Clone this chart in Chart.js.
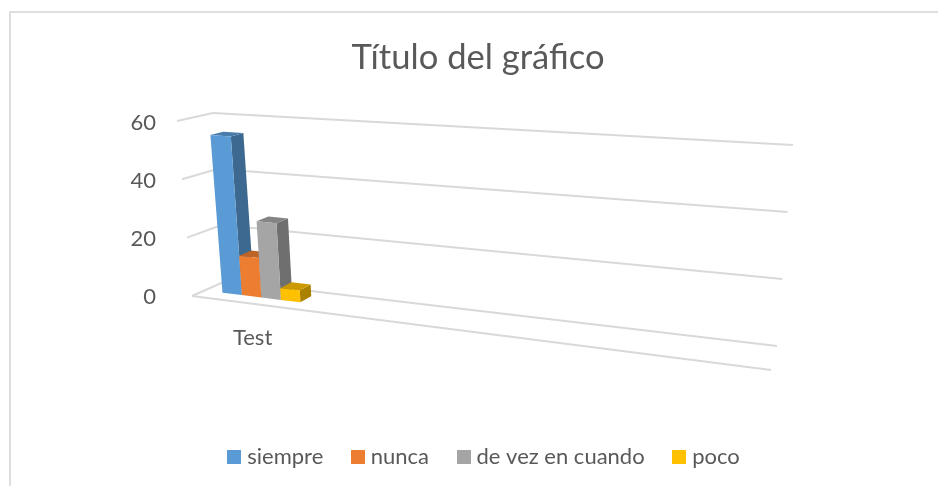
<!DOCTYPE html>
<html>
<head>
<meta charset="utf-8">
<title>Título del gráfico</title>
<script src="https://cdn.jsdelivr.net/npm/chart.js@4"></script>
<style>
    html, body { margin: 0; background: #fff; overflow: hidden; }
    #frame { position: absolute; left: 9px; top: 11px; right: 0; bottom: 0; border-top: 2px solid #dedede; border-left: 2px solid #dedede; }
    #chart { position: absolute; left: 0; top: 0; }
</style>
</head>
<body>
<div id="frame"></div>
<canvas id="chart" width="938" height="486"></canvas>
<script>
const categories = ['Test', '', '', '', ''];
const seriesNames = ['siempre', 'nunca', 'de vez en cuando', 'poco'];
const siempre = [54.5];
const nunca = [13.5];
const deVezEnCuando = [26];
const poco = [4];
const seriesValues = [siempre, nunca, deVezEnCuando, poco];
const seriesColors = ['#5b9bd5', '#ed7d31', '#a5a5a5', '#ffc000'];
const gridColor = '#d9d9d9';
const textColor = '#595959';

// corners of the 3D box on screen: [u][w] for floor and top of the value axis
const floorBox = [[[192, 296], [226, 281]], [[771, 370], [777, 346]]];
const topBox = [[[177, 121], [213, 113]], [[787, 159], [793, 145]]];
const barFront = 0.37, barBack = 0.74;

function mix(a, b, t) {
    return [a[0] + (b[0] - a[0]) * t, a[1] + (b[1] - a[1]) * t];
}

// u = across the x axis, v = up the y axis, w = depth, all 0..1
function project(u, v, w) {
    const floor = mix(mix(floorBox[0][0], floorBox[0][1], w), mix(floorBox[1][0], floorBox[1][1], w), u);
    const top = mix(mix(topBox[0][0], topBox[0][1], w), mix(topBox[1][0], topBox[1][1], w), u);
    return mix(floor, top, v);
}

function shade(hex, f) {
    const n = parseInt(hex.slice(1), 16);
    return `rgb(${Math.round((n >> 16) * f)},${Math.round(((n >> 8) & 255) * f)},${Math.round((n & 255) * f)})`;
}

function face(ctx, points, color) {
    ctx.beginPath();
    points.forEach((p, i) => i ? ctx.lineTo(p[0], p[1]) : ctx.moveTo(p[0], p[1]));
    ctx.closePath();
    ctx.fillStyle = color;
    ctx.fill();
}

function line(ctx, a, b) {
    ctx.beginPath();
    ctx.moveTo(a[0], a[1]);
    ctx.lineTo(b[0], b[1]);
    ctx.stroke();
}

// legend square as an image, so the gap to the text can be tighter than the default
function swatch(color) {
    const c = document.createElement('canvas');
    c.width = c.height = 14;
    const ctx = c.getContext('2d');
    ctx.fillStyle = color;
    ctx.fillRect(0, 0, 14, 14);
    return c;
}

const box3d = {
    id: 'box3d',
    // the legend sits a bit right of the title in the original
    afterLayout(chart) {
        chart.legend.left += 8;
        chart.legend.right += 8;
    },
    // native flat bars are replaced by the projected ones below
    beforeDatasetDraw() {
        return false;
    },
    beforeDatasetsDraw(chart) {
        const ctx = chart.ctx;
        const area = chart.chartArea;
        const yScale = chart.scales.y;
        const toU = x => (x - area.left) / (area.right - area.left);
        const toV = y => (area.bottom - y) / (area.bottom - area.top);

        ctx.save();
        ctx.strokeStyle = gridColor;
        ctx.lineWidth = 2;
        yScale.ticks.forEach(tick => {
            const v = toV(yScale.getPixelForValue(tick.value));
            line(ctx, project(0, v, 0), project(0, v, 1));
            line(ctx, project(0, v, 1), project(1, v, 1));
        });
        line(ctx, project(0, 0, 0), project(1, 0, 0));

        chart.data.datasets.forEach((ds, i) => {
            chart.getDatasetMeta(i).data.forEach(bar => {
                const p = bar.getProps(['x', 'y', 'width'], true);
                const u0 = toU(p.x - p.width / 2), u1 = toU(p.x + p.width / 2), v = toV(p.y);
                const color = ds.backgroundColor;
                face(ctx, [project(u1, 0, barFront), project(u1, 0, barBack), project(u1, v, barBack), project(u1, v, barFront)], shade(color, 0.67));
                face(ctx, [project(u0, v, barFront), project(u1, v, barFront), project(u1, v, barBack), project(u0, v, barBack)], shade(color, 0.8));
                face(ctx, [project(u0, 0, barFront), project(u1, 0, barFront), project(u1, v, barFront), project(u0, v, barFront)], color);
            });
        });
        ctx.restore();
    }
};

new Chart(document.getElementById('chart'), {
    type: 'bar',
    data: {
        labels: categories,
        datasets: seriesNames.map((name, i) => ({
            label: name,
            data: seriesValues[i],
            backgroundColor: seriesColors[i],
            categoryPercentage: 0.685,
            barPercentage: 1
        }))
    },
    plugins: [box3d],
    options: {
        responsive: false,
        animation: false,
        layout: { padding: { left: 18, right: 0, top: 0, bottom: 8 } },
        plugins: {
            title: {
                display: true,
                text: 'Título del gráfico',
                color: textColor,
                font: { family: 'Lato', size: 34.6, weight: 'normal' },
                padding: { top: 37, bottom: 44 }
            },
            legend: {
                position: 'bottom',
                labels: {
                    color: textColor,
                    font: { family: 'Lato', size: 22 },
                    usePointStyle: true,
                    pointStyleWidth: 4,
                    padding: 32.5,
                    generateLabels(chart) {
                        return Chart.defaults.plugins.legend.labels.generateLabels(chart).map(item => {
                            item.pointStyle = swatch(item.fillStyle);
                            return item;
                        });
                    }
                }
            },
            tooltip: { enabled: false }
        },
        scales: {
            x: {
                grid: { display: false },
                border: { display: false },
                ticks: {
                    color: textColor,
                    font: { family: 'Lato', size: 22 },
                    padding: 20,
                    autoSkip: false,
                    maxRotation: 0
                },
                afterFit(scale) { scale.height = 116.5; }
            },
            y: {
                min: 0,
                max: 60,
                grid: { display: false },
                border: { display: false },
                ticks: {
                    stepSize: 20,
                    color: textColor,
                    font: { family: 'Lato', size: 22 },
                    padding: 31
                },
                afterFit(scale) { scale.width = 177; }
            },
            // empty axis, only keeps the plot clear of the right side
            spacer: {
                position: 'right',
                grid: { display: false },
                border: { display: false },
                ticks: { display: false },
                afterFit(scale) { scale.width = 167; }
            }
        }
    }
});
</script>
</body>
</html>
